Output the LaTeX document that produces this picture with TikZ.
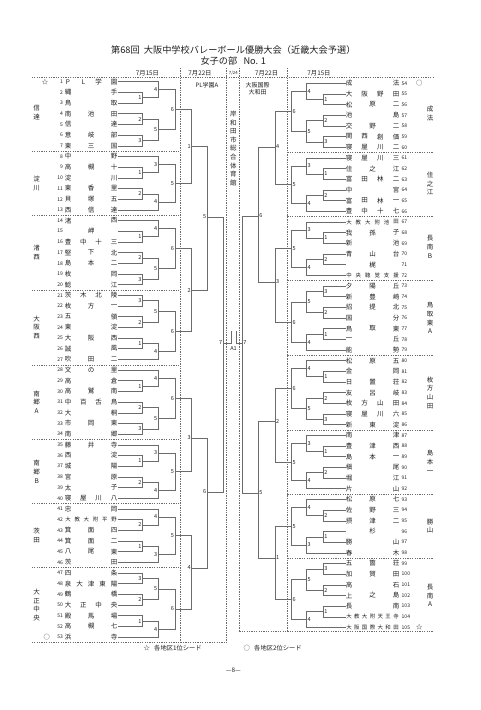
\documentclass[tikz,border=0pt]{standalone}
\usepackage{fontspec}
\setmainfont{Noto Sans CJK JP}
\usetikzlibrary{calc}
\definecolor{ln}{gray}{0.42}
\definecolor{tx}{gray}{0.12}
% team on the left: index, number of characters, characters
\newcommand\LT[3]{%
  \pgfmathsetmacro\yy{81.7+(#1-1)*10.68}%
  \ifnum#2>5 \def\nf{\fontsize{5.4}{6}\selectfont}\else\def\nf{\fontsize{6.5}{7}\selectfont}\fi
  \coordinate (LT#1) at (117.5,\yy);%
  \node[num,anchor=east] (LN#1) at (63.5,\yy) {#1};%
  \foreach \c [count=\k] in {#3}{%
    \pgfmathsetmacro\xx{(#2==1)*91+(#2>1)*(68+(\k-1)*46/max(#2-1,1))}%
    \node[nm,font=\nf] (LC#1x\k) at (\xx,\yy) {\c};}%
}
\newcommand\RT[3]{%
  \pgfmathsetmacro\yy{83.3+(#1-54)*10.67}%
  \ifnum#2>5 \def\nf{\fontsize{5.4}{6}\selectfont}\else\def\nf{\fontsize{6.5}{7}\selectfont}\fi
  \coordinate (RT#1) at (345.5,\yy);%
  \node[num,anchor=west] (RN#1) at (401,\yy) {#1};%
  \foreach \c [count=\k] in {#3}{%
    \pgfmathsetmacro\xx{(#2==1)*372.5+(#2>1)*(349+(\k-1)*47/max(#2-1,1))}%
    \node[nm,font=\nf] (RC#1x\k) at (\xx,\yy) {\c};}%
}
% match: name, x, in a, in b, label  (junction at mid height)
\newcommand\LM[5]{%
  \path let \p1=(#3), \p2=(#4) in coordinate (#1) at (#2pt,{0.5*\y1+0.5*\y2});%
  \draw[br] (#3) -| (#1);\draw[br] (#4) -| (#1);%
  \node[lbl,anchor=east] (#1n) at (#1) {#5};}
\newcommand\RM[5]{%
  \path let \p1=(#3), \p2=(#4) in coordinate (#1) at (#2pt,{0.5*\y1+0.5*\y2});%
  \draw[br] (#3) -| (#1);\draw[br] (#4) -| (#1);%
  \node[lbl,anchor=west] (#1n) at (#1) {#5};}
% match with given height: name, x, y, in a, in b, label
\newcommand\LMy[6]{%
  \coordinate (#1) at (#2,#3);%
  \draw[br] (#4) -| (#1);\draw[br] (#5) -| (#1);%
  \node[lbl,anchor=east] (#1n) at (#1) {#6};}
\newcommand\RMy[6]{%
  \coordinate (#1) at (#2,#3);%
  \draw[br] (#4) -| (#1);\draw[br] (#5) -| (#1);%
  \node[lbl,anchor=west] (#1n) at (#1) {#6};}
\begin{document}
\begin{tikzpicture}[x=1pt,y=-1pt,
  br/.style={draw=ln,line width=0.55pt},
  sep/.style={draw=ln,line width=0.45pt,dash pattern=on 1.3pt off 1.1pt},
  num/.style={font=\fontsize{5}{5}\selectfont,inner sep=0.5pt,text=tx},
  nm/.style={inner sep=0pt,text=tx},
  lbl/.style={font=\fontsize{5.5}{5.5}\selectfont,inner sep=0.8pt,text=tx},
  grp/.style={font=\fontsize{6.5}{8.8}\selectfont,align=center,inner sep=0pt,text=tx},
  hd/.style={font=\fontsize{6.3}{7}\selectfont,inner sep=0pt,text=tx},
  ttl/.style={font=\fontsize{9.2}{10}\selectfont,inner sep=0pt,text=tx},
  ft/.style={font=\fontsize{6.3}{7}\selectfont,inner sep=0pt,text=tx}]
\useasboundingbox (0,0) rectangle (480,710);
\fill[white] (0,0) rectangle (480,710);
% ---------- heading ----------
\node[ttl] (title) at (233.3,50) {第68回\ \ 大阪中学校バレーボール優勝大会（近畿大会予選）};
\node[ttl] (sub) at (233.3,61.5) {女子の部\ \ \ No. 1};
\node[hd] (d1) at (147.5,73) {7月15日};
\node[hd] (d2) at (200,73) {7月22日};
\node[hd,font=\fontsize{4.3}{5}\selectfont] (d3) at (233.3,73) {7/24};
\node[hd] (d4) at (266.7,73) {7月22日};
\node[hd] (d5) at (319,73) {7月15日};
% ---------- frame lines ----------
\draw[sep] (31.7,77.7) -- (433.3,77.7);
\draw[sep] (31.7,642) -- (226.7,642);
\draw[sep] (239.3,631) -- (433.3,631);
\foreach \xx/\yb in {180/642,226.7/642,239.3/631,287.3/631}
  \draw[sep] (\xx,68) -- (\xx,\yb);
\foreach \i in {7,13,20,27,34,40,46}
  \draw[sep] (31.7,{81.7+(\i-0.5)*10.68}) -- (180,{81.7+(\i-0.5)*10.68});
\foreach \j in {60,66,72,79,86,92,98}
  \draw[sep] (287.3,{83.3+(\j-53.5)*10.67}) -- (433.3,{83.3+(\j-53.5)*10.67});
% ---------- left teams ----------
\LT{1}{4}{P,L,学,園}
\LT{2}{2}{縄,手}
\LT{3}{2}{鳥,取}
\LT{4}{3}{南,池,田}
\LT{5}{2}{信,達}
\LT{6}{3}{意,岐,部}
\LT{7}{3}{東,三,国}
\LT{8}{2}{中,野}
\LT{9}{3}{高,槻,十}
\LT{10}{2}{淀,川}
\LT{11}{3}{東,香,里}
\LT{12}{3}{貝,塚,五}
\LT{13}{3}{西,信,達}
\LT{14}{2}{渚,西}
\LT{15}{1}{岬}
\LT{16}{4}{豊,中,十,三}
\LT{17}{3}{堅,下,北}
\LT{18}{3}{島,本,二}
\LT{19}{2}{枚,岡}
\LT{20}{2}{鯰,江}
\LT{21}{4}{茨,木,北,陵}
\LT{22}{3}{枚,方,一}
\LT{23}{2}{五,領}
\LT{24}{2}{東,淀}
\LT{25}{3}{大,阪,西}
\LT{26}{2}{誠,風}
\LT{27}{3}{吹,田,二}
\LT{28}{3}{文,の,里}
\LT{29}{2}{高,倉}
\LT{30}{3}{高,鷲,南}
\LT{31}{4}{中,百,舌,鳥}
\LT{32}{2}{大,桐}
\LT{33}{3}{市,岡,東}
\LT{34}{2}{南,郷}
\LT{35}{3}{藤,井,寺}
\LT{36}{2}{西,淀}
\LT{37}{2}{城,陽}
\LT{38}{2}{宮,原}
\LT{39}{2}{太,子}
\LT{40}{4}{寝,屋,川,八}
\LT{41}{2}{忠,岡}
\LT{42}{6}{大,教,大,附,平,野}
\LT{43}{3}{箕,面,四}
\LT{44}{3}{箕,面,二}
\LT{45}{3}{八,尾,東}
\LT{46}{2}{茨,田}
\LT{47}{2}{四,条}
\LT{48}{5}{泉,大,津,東,陽}
\LT{49}{2}{鶴,橋}
\LT{50}{4}{大,正,中,央}
\LT{51}{3}{殿,馬,場}
\LT{52}{3}{高,槻,七}
\LT{53}{2}{浜,寺}
% ---------- right teams ----------
\RT{54}{2}{成,法}
\RT{55}{4}{大,阪,野,田}
\RT{56}{3}{松,原,二}
\RT{57}{2}{池,島}
\RT{58}{3}{交,野,二}
\RT{59}{4}{関,西,創,価}
\RT{60}{4}{寝,屋,川,二}
\RT{61}{4}{寝,屋,川,三}
\RT{62}{3}{住,之,江}
\RT{63}{4}{富,田,林,二}
\RT{64}{2}{中,宮}
\RT{65}{4}{富,田,林,一}
\RT{66}{4}{豊,中,十,七}
\RT{67}{6}{大,教,大,附,池,田}
\RT{68}{3}{我,孫,子}
\RT{69}{2}{新,池}
\RT{70}{3}{青,山,台}
\RT{71}{1}{梶}
\RT{72}{6}{中,央,聴,覚,支,援}
\RT{73}{3}{夕,陽,丘}
\RT{74}{3}{新,豊,崎}
\RT{75}{3}{招,提,北}
\RT{76}{2}{国,分}
\RT{77}{3}{鳥,取,東}
\RT{78}{2}{一,丘}
\RT{79}{2}{能,勢}
\RT{80}{3}{松,原,五}
\RT{81}{2}{金,岡}
\RT{82}{3}{日,置,荘}
\RT{83}{3}{友,呂,岐}
\RT{84}{4}{枚,方,山,田}
\RT{85}{4}{寝,屋,川,六}
\RT{86}{3}{新,東,淀}
\RT{87}{2}{南,津}
\RT{88}{3}{豊,津,西}
\RT{89}{3}{島,本,一}
\RT{90}{2}{槇,尾}
\RT{91}{2}{堀,江}
\RT{92}{2}{片,山}
\RT{93}{3}{松,原,七}
\RT{94}{3}{佐,野,三}
\RT{95}{3}{摂,津,二}
\RT{96}{1}{杉}
\RT{97}{2}{勝,山}
\RT{98}{2}{春,木}
\RT{99}{3}{五,箇,荘}
\RT{100}{3}{加,賀,田}
\RT{101}{2}{高,石}
\RT{102}{3}{上,之,島}
\RT{103}{2}{長,南}
\RT{104}{7}{大,教,大,附,天,王,寺}
\RT{105}{7}{大,阪,国,際,大,和,田}
% ---------- seed marks ----------
\node[ft] (s1) at (45,81.7) {☆};
\node[ft] (s53) at (46.7,637.1) {○};
\node[ft] (s54) at (419.3,83.3) {○};
\node[ft] (s105) at (419.3,627.4) {☆};
% ---------- group labels ----------
\node[grp] (GL1) at (36.7,112.5) {信\\達};
\node[grp] (GL2) at (36.7,183.2) {淀\\川};
\node[grp] (GL3) at (36.7,252.6) {渚\\西};
\node[grp] (GL4) at (36.7,327.4) {大\\阪\\西};
\node[grp] (GL5) at (36.7,402.2) {南\\郷\\A};
\node[grp] (GL6) at (36.7,471.5) {南\\郷\\B};
\node[grp] (GL7) at (36.7,535.6) {茨\\田};
\node[grp] (GL8) at (36.7,605) {大\\正\\中\\央};
\node[grp] (GR1) at (430,113.5) {成\\法};
\node[grp] (GR2) at (430,183.5) {住\\之\\江};
\node[grp] (GR3) at (430,247) {長\\南\\B};
\node[grp] (GR4) at (430,318) {鳥\\取\\東\\A};
\node[grp] (GR5) at (430,392.7) {枚\\方\\山\\田};
\node[grp] (GR6) at (430,462) {島\\本\\一};
\node[grp] (GR7) at (430,526) {勝\\山};
\node[grp] (GR8) at (430,595.4) {長\\南\\A};
% ---------- left bracket: 7/15 ----------
\LM{a1}{142.5}{LT2}{LT3}{1}\LM{a2}{142.5}{LT4}{LT5}{2}\LM{a3}{142.5}{LT6}{LT7}{3}
\LM{a4}{158.3}{LT1}{a1}{4}\LM{a5}{158.3}{a2}{a3}{5}\LM{a6}{175}{a4}{a5}{6}
\LM{b1}{142.5}{LT9}{LT10}{1}\LM{b2}{142.5}{LT11}{LT12}{2}
\LM{b3}{158.3}{LT8}{b1}{3}\LM{b4}{158.3}{b2}{LT13}{4}\LM{b5}{175}{b3}{b4}{5}
\LM{c1}{142.5}{LT15}{LT16}{1}\LM{c2}{142.5}{LT17}{LT18}{2}\LM{c3}{142.5}{LT19}{LT20}{3}
\LM{c4}{158.3}{LT14}{c1}{4}\LM{c5}{158.3}{c2}{c3}{5}\LM{c6}{175}{c4}{c5}{6}
\LM{d3}{142.5}{LT21}{LT22}{3}\LM{d2}{142.5}{LT23}{LT24}{2}\LM{d1}{142.5}{LT25}{LT26}{1}
\LM{d5}{158.3}{d3}{d2}{5}\LM{d4}{158.3}{d1}{LT27}{4}\LM{d6}{175}{d5}{d4}{6}
\LM{e1}{142.5}{LT29}{LT30}{1}\LM{e2}{142.5}{LT31}{LT32}{2}\LM{e3}{142.5}{LT33}{LT34}{3}
\LM{e4}{158.3}{LT28}{e1}{4}\LM{e5}{158.3}{e2}{e3}{5}\LM{e6}{175}{e4}{e5}{6}
\LM{f1}{142.5}{LT36}{LT37}{1}\LM{f2}{142.5}{LT38}{LT39}{2}
\LM{f3}{158.3}{LT35}{f1}{3}\LM{f4}{158.3}{f2}{LT40}{4}\LM{f5}{175}{f3}{f4}{5}
\LM{g2}{142.5}{LT42}{LT43}{2}\LM{g1}{142.5}{LT44}{LT45}{1}
\LM{g4}{158.3}{LT41}{g2}{4}\LM{g3}{158.3}{g1}{LT46}{3}\LM{g5}{175}{g4}{g3}{5}
\LM{h3}{142.5}{LT47}{LT48}{3}\LM{h2}{142.5}{LT49}{LT50}{2}\LM{h1}{142.5}{LT51}{LT52}{1}
\LM{h5}{158.3}{h3}{h2}{5}\LM{h4}{158.3}{h1}{LT53}{4}\LM{h6}{175}{h5}{h4}{6}
% ---------- right bracket: 7/15 ----------
\RM{p1}{323.3}{RT55}{RT56}{1}\RM{p2}{323.3}{RT57}{RT58}{2}\RM{p3}{323.3}{RT59}{RT60}{3}
\RM{p4}{306.7}{RT54}{p1}{4}\RM{p5}{306.7}{p2}{p3}{5}\RM{p6}{291.7}{p4}{p5}{6}
\RM{q1}{323.3}{RT62}{RT63}{1}\RM{q2}{323.3}{RT64}{RT65}{2}
\RM{q3}{306.7}{RT61}{q1}{3}\RM{q4}{306.7}{q2}{RT66}{4}\RM{q5}{291.7}{q3}{q4}{5}
\RM{r1}{323.3}{RT68}{RT69}{1}\RM{r2}{323.3}{RT70}{RT71}{2}
\RM{r3}{306.7}{RT67}{r1}{3}\RM{r4}{306.7}{r2}{RT72}{4}\RM{r5}{291.7}{r3}{r4}{5}
\RM{s3}{323.3}{RT73}{RT74}{3}\RM{s2}{323.3}{RT75}{RT76}{2}\RM{s1}{323.3}{RT77}{RT78}{1}
\RM{s5}{306.7}{s3}{s2}{5}\RM{s4}{306.7}{s1}{RT79}{4}\RM{s6}{291.7}{s5}{s4}{6}
\RM{t1}{323.3}{RT81}{RT82}{1}\RM{t2}{323.3}{RT83}{RT84}{2}\RM{t3}{323.3}{RT85}{RT86}{3}
\RM{t4}{306.7}{RT80}{t1}{4}\RM{t5}{306.7}{t2}{t3}{5}\RM{t6}{291.7}{t4}{t5}{6}
\RM{u1}{323.3}{RT88}{RT89}{1}\RM{u2}{323.3}{RT90}{RT91}{2}
\RM{u3}{306.7}{RT87}{u1}{3}\RM{u4}{306.7}{u2}{RT92}{4}\RM{u5}{291.7}{u3}{u4}{5}
\RM{v2}{323.3}{RT94}{RT95}{2}\RM{v1}{323.3}{RT96}{RT97}{1}
\RM{v4}{306.7}{RT93}{v2}{4}\RM{v3}{306.7}{v1}{RT98}{3}\RM{v5}{291.7}{v4}{v3}{5}
\RM{w3}{323.3}{RT99}{RT100}{3}\RM{w2}{323.3}{RT101}{RT102}{2}\RM{w1}{323.3}{RT103}{RT104}{1}
\RM{w5}{306.7}{w3}{w2}{5}\RM{w4}{306.7}{w1}{RT105}{4}\RM{w6}{291.7}{w5}{w4}{6}
% ---------- 7/22 and final ----------
\LMy{A1}{191.7}{146.5}{a6}{b5}{1}
\LMy{A2}{191.7}{290}{c6}{d6}{2}
\LMy{A3}{191.7}{438}{e6}{f5}{3}
\LMy{A4}{191.7}{568}{g5}{h6}{4}
\LMy{A5}{207.3}{217}{A1}{A2}{5}
\LMy{A6}{207.3}{492}{A3}{A4}{6}
\LMy{LSF}{223.3}{343}{A5}{A6}{7}
\RMy{B4}{275}{147}{p6}{q5}{4}
\RMy{B3}{275}{282}{r5}{s6}{3}
\RMy{B2}{275}{421}{t6}{u5}{2}
\RMy{B1}{275}{558}{v5}{w6}{1}
\RMy{B6}{258.3}{216}{B4}{B3}{6}
\RMy{B5}{258.3}{493}{B2}{B1}{5}
\RMy{RSF}{242.3}{343}{B6}{B5}{7}
\coordinate (FL) at (231.4,343);\coordinate (FLt) at (231.4,331);
\coordinate (FR) at (235.8,343);\coordinate (FRt) at (235.8,331);
\draw[br] (LSF) -- (FL) -- (FLt);
\draw[br] (RSF) -- (FR) -- (FRt);
\node[lbl] (court) at (233.6,348.6) {A1};
% ---------- venue and seeds of the semis ----------
\node[hd,font=\fontsize{6}{6}\selectfont] (plA) at (207,85) {PL学園A};
\node[hd,font=\fontsize{6}{7}\selectfont,align=center] (owa) at (257.5,88.3) {大阪国際\\大和田};
\node[grp,font=\fontsize{6.5}{8.6}\selectfont] (venue) at (233.3,148.5) {岸\\和\\田\\市\\総\\合\\体\\育\\館};
% ---------- footer ----------
\node[ft,anchor=west] (fs1) at (143.5,648.3) {☆};
\node[ft,anchor=west] (fn1) at (154,648.3) {各地区1位シード};
\node[ft,anchor=west] (fs2) at (243.5,648.3) {○};
\node[ft,anchor=west] (fn2) at (254,648.3) {各地区2位シード};
\node[ft] (page) at (233.3,670) {—8—};
\end{tikzpicture}
\end{document}
